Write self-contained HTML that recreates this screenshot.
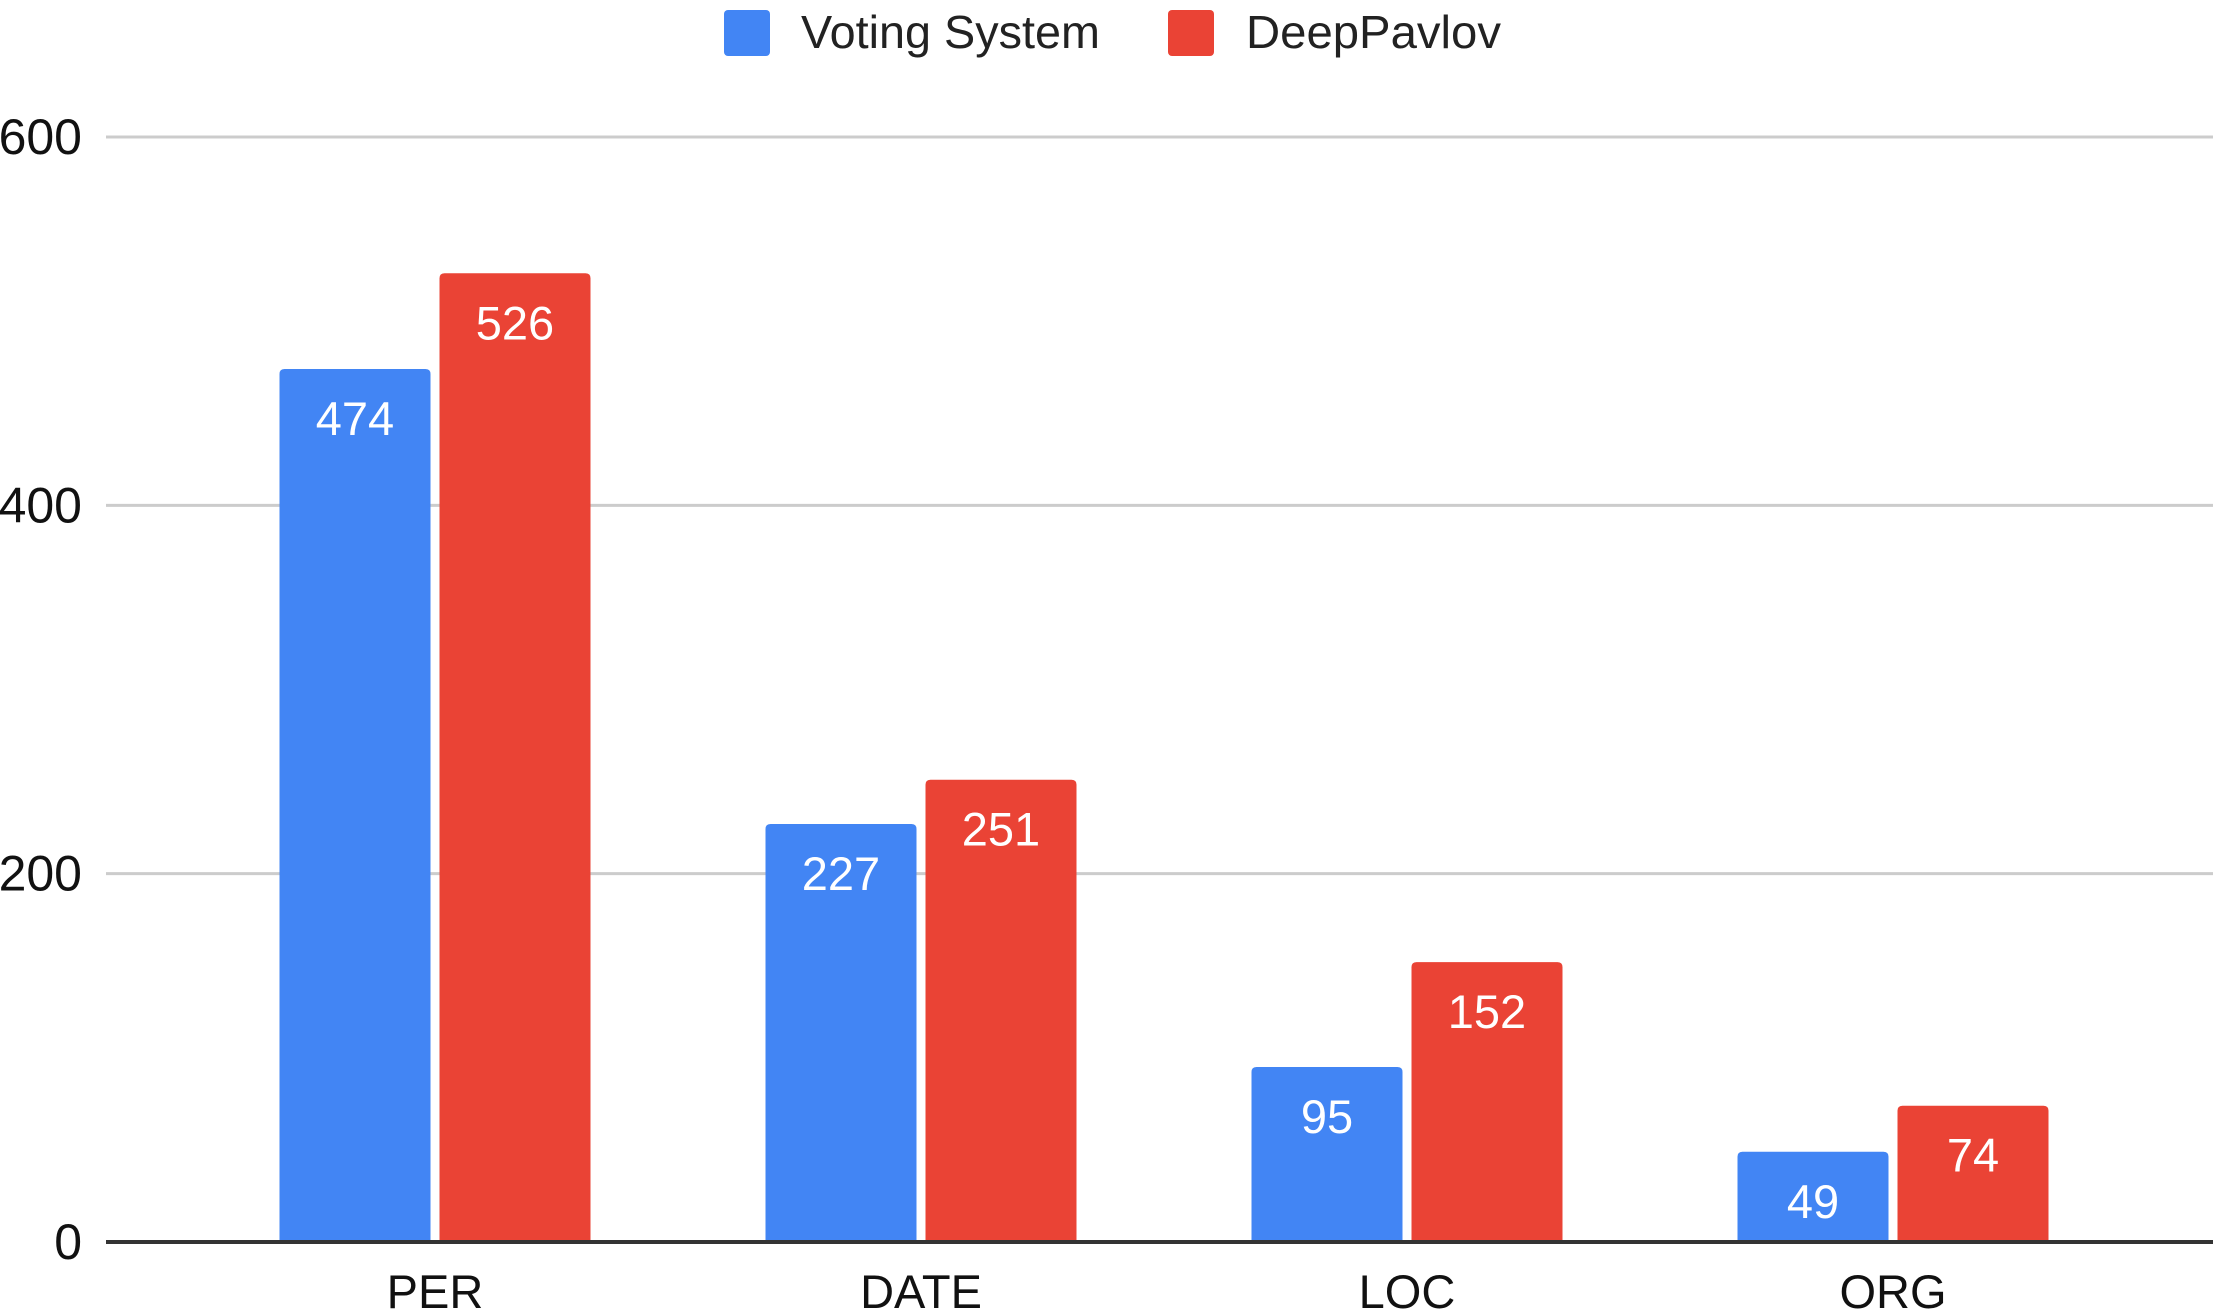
<!DOCTYPE html>
<html><head><meta charset="utf-8"><style>
html,body{margin:0;padding:0;background:#fff;}
svg{display:block;font-family:"Liberation Sans",Arial,sans-serif;}
</style></head><body>
<svg id="chart" width="2213" height="1314" viewBox="0 0 2213 1314" xmlns="http://www.w3.org/2000/svg">
<g>
<rect x="724" y="10" width="46" height="46" rx="4" fill="#4285F4"/>
<text x="801" y="48" font-size="46" fill="#222" textLength="299" lengthAdjust="spacingAndGlyphs">Voting System</text>
<rect x="1168" y="10" width="46" height="46" rx="4" fill="#EA4335"/>
<text x="1246" y="48" font-size="46" fill="#222" textLength="255" lengthAdjust="spacingAndGlyphs">DeepPavlov</text>
</g>
<g id="grid"></g>
<g id="bars"></g>
<g id="xlabels"></g>
</svg>
<script>
const categories = ["PER","DATE","LOC","ORG"];
const votingValues = [474,227,95,49];
const deepPavlovValues = [526,251,152,74];
const yTicks = [0,200,400,600];

const NS="http://www.w3.org/2000/svg";
const baseY=1242, topY=137, maxV=600, left=106, right=2213;
function y(v){return baseY-(v/maxV)*(baseY-topY);}
function cx(i){return 435+486*i;}
const barW=151, gap=9;
function mk(tag,attrs,parent){const e=document.createElementNS(NS,tag);for(const k in attrs)e.setAttribute(k,attrs[k]);parent.appendChild(e);return e;}
const grid=document.getElementById('grid'), bars=document.getElementById('bars'), xl=document.getElementById('xlabels');
yTicks.forEach(t=>{
  if(t!==0){
    const l=mk('line',{x1:left,x2:right,y1:y(t),y2:y(t),stroke:'#cccccc','stroke-width':3},grid);
    
    
  }
  const tx=mk('text',{x:82,y:y(t)+17,'text-anchor':'end','font-size':50,fill:'#111'},grid);
  tx.textContent=t;
  
  
});
function bar(x,v,color,name){
  const yt=y(v), r=5;
  const p=mk('path',{d:`M${x},${baseY}V${yt+r}Q${x},${yt} ${x+r},${yt}H${x+barW-r}Q${x+barW},${yt} ${x+barW},${yt+r}V${baseY}Z`,fill:color},bars);
  
  
  const t=mk('text',{x:x+barW/2,y:yt+66,'text-anchor':'middle','font-size':47,fill:'#fff'},bars);
  t.textContent=v;
  
  
}
categories.forEach((c,i)=>{
  const c0=cx(i);
  bar(c0-gap/2-barW,votingValues[i],'#4285F4','bar-voting-'+c.toLowerCase());
  bar(c0+gap/2,deepPavlovValues[i],'#EA4335','bar-deeppavlov-'+c.toLowerCase());
  const t=mk('text',{x:c0,y:1308,'text-anchor':'middle','font-size':47,fill:'#111'},xl);
  t.textContent=c;
  
  
});
const ax=mk('line',{x1:left,x2:right,y1:baseY,y2:baseY,stroke:'#333','stroke-width':4},document.getElementById('chart'));


</script>
</body></html>
